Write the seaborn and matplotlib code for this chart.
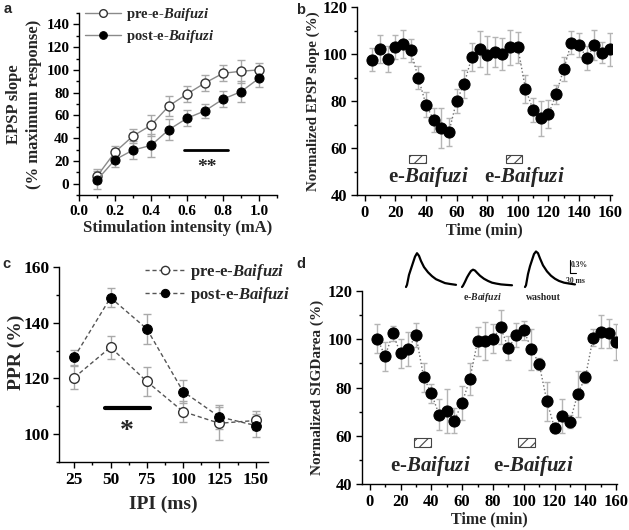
import numpy as np
import pandas as pd
import seaborn as sns
import matplotlib.pyplot as plt
from matplotlib.ticker import MultipleLocator

sns.set_theme(style="ticks")
plt.rcParams['font.family'] = ['Liberation Serif', 'DejaVu Serif']
plt.rcParams['font.weight'] = 'bold'
plt.rcParams['mathtext.fontset'] = 'custom'
plt.rcParams['mathtext.rm'] = 'Liberation Serif:bold'
plt.rcParams['mathtext.it'] = 'Liberation Serif:italic:bold'
plt.rcParams['axes.edgecolor'] = 'black'
plt.rcParams['axes.linewidth'] = 1.0
plt.rcParams['xtick.color'] = 'black'
plt.rcParams['ytick.color'] = 'black'
plt.rcParams['hatch.linewidth'] = 0.8

# ---- panel a: input/output curve
intensity = [0.1, 0.2, 0.3, 0.4, 0.5, 0.6, 0.7, 0.8, 0.9, 1.0]
pre_io = [6.5, 27.7, 41.9, 51.3, 68.4, 78.8, 88.5, 97.0, 98.8, 100.0]
pre_io_err = [6, 5, 6, 9, 9, 7, 7, 7, 10, 6]
post_io = [3.2, 21.0, 29.5, 33.6, 47.5, 57.5, 64.0, 74.3, 80.8, 92.6]
post_io_err = [8, 6, 8, 10, 9, 7, 6, 7, 9, 8]

# ---- panel b: EPSP slope time course
time_min = [5, 10, 15, 20, 25, 30, 35, 40, 45, 50, 55, 60, 65, 70, 75, 80,
            85, 90, 95, 100, 105, 110, 115, 120, 125, 130, 135, 140, 145, 150, 155, 160]
epsp = [97.6, 102.2, 98.0, 103.0, 104.2, 101.5, 89.9, 78.5, 72.0, 68.4, 66.7, 80.0,
        87.3, 98.8, 102.1, 99.5, 100.8, 100.0, 102.8, 102.8, 85.2, 76.2, 72.7, 74.3,
        82.8, 93.7, 104.8, 103.8, 98.3, 103.8, 100.5, 102.1]
epsp_err = [5, 6, 5.5, 5, 6, 5, 5, 5.5, 5, 8.5, 6, 5, 6, 6, 7.5, 8,
            6.5, 7, 7.5, 6.5, 6, 5, 7.5, 6, 4, 5, 5, 5, 5, 6.5, 4.5, 7]
drug_b_start = [29, 92]
drug_b_end = [40, 103]

# ---- panel c: paired-pulse ratio
ipi = [25, 50, 75, 100, 125, 150]
pre_ppr = [120.3, 131.2, 118.9, 108.1, 103.9, 104.9]
pre_ppr_err = [4, 4.2, 5.3, 3.9, 6, 3.4]
post_ppr = [127.6, 149.0, 137.8, 115.3, 106.2, 103.1]
post_ppr_err = [2.7, 3.5, 5.4, 4, 4.3, 4.1]

# ---- panel d: SIGD area time course
sigd = [100.2, 93.0, 102.4, 94.1, 95.8, 101.8, 84.3, 77.6, 68.8, 70.3, 66.3, 73.7,
        83.5, 99.2, 99.2, 100.2, 105.0, 96.2, 101.7, 103.7, 95.9, 89.7, 74.3, 63.1,
        68.3, 65.9, 77.3, 84.3, 100.7, 103.2, 102.4, 98.8]
sigd_err = [6, 6, 3, 6, 7, 5, 6, 4, 6.5, 9, 5, 7, 6.5, 6, 8, 6,
            7, 5, 5, 4, 8.5, 2.5, 8, 2, 7, 2.5, 9.5, 2.5, 3.5, 7, 6, 7.5]
drug_d_start = [29, 96]
drug_d_end = [40, 107]

# ---- panel d inset: example traces (ms, %)
trace_t = [0, 5, 15, 25, 35, 45, 55, 65, 75, 90, 110, 130, 150, 170, 195, 220, 250]
trace_ctrl = [0, 0.05, 0.28, 0.42, 0.56, 0.70, 0.78, 0.72, 0.60, 0.46, 0.34, 0.25, 0.18, 0.14, 0.09, 0.07, 0.05]
trace_drug = [0, 0.03, 0.12, 0.22, 0.30, 0.37, 0.40, 0.38, 0.33, 0.26, 0.19, 0.14, 0.10, 0.08, 0.06, 0.05, 0.04]
trace_wash = [0, 0.04, 0.30, 0.48, 0.62, 0.76, 0.82, 0.78, 0.66, 0.50, 0.36, 0.26, 0.19, 0.14, 0.10, 0.08, 0.06]

W, H = 629, 530
fig = plt.figure(figsize=(W / 100, H / 100), dpi=100)


def box(l, t, r, b):
    return [l / W, 1 - b / H, (r - l) / W, (b - t) / H]


def style(ax, xmaj, xmin, ymaj, ymin, size):
    sns.despine(ax=ax)
    ax.xaxis.set_major_locator(MultipleLocator(xmaj))
    ax.xaxis.set_minor_locator(MultipleLocator(xmin))
    ax.yaxis.set_major_locator(MultipleLocator(ymaj))
    ax.yaxis.set_minor_locator(MultipleLocator(ymin))
    ax.tick_params(which='major', length=4, width=1, labelsize=size, pad=3)
    ax.tick_params(which='minor', length=2.5, width=1)
    for lab in ax.get_xticklabels() + ax.get_yticklabels():
        lab.set_fontweight('bold')


BAI = r"$\mathit{Baifuzi}$"
ERR = '#a9a9a9'

# ---------------- a
ax = fig.add_axes(box(79, 13, 277, 195))
ax.errorbar(intensity, pre_io, yerr=pre_io_err, fmt='none', ecolor=ERR, capsize=3, elinewidth=1, zorder=1)
ax.errorbar(intensity, post_io, yerr=post_io_err, fmt='none', ecolor=ERR, capsize=3, elinewidth=1, zorder=1)
sns.lineplot(x=intensity, y=pre_io, ax=ax, color='#8a8a8a', lw=1, marker='o', markersize=6.5,
             markerfacecolor='white', markeredgecolor='#333333', markeredgewidth=1, label='pre-e-' + BAI)
sns.lineplot(x=intensity, y=post_io, ax=ax, color='#8a8a8a', lw=1, marker='o', markersize=6.5,
             markerfacecolor='black', markeredgecolor='black', label='post-e-' + BAI)
ax.set_xlim(0, 1.1)
ax.set_ylim(-10, 150)
style(ax, 0.2, 0.1, 20, 10, 11)
ax.set_xticks([0.0, 0.2, 0.4, 0.6, 0.8, 1.0])
ax.set_xticklabels(['0.0', '0.2', '0.4', '0.6', '0.8', '1.0'], fontweight='bold')
ax.set_xlabel('Stimulation intensity (mA)', fontsize=12, fontweight='bold', labelpad=2)
ax.set_ylabel('EPSP slope\n(% maximum response)', fontsize=12, fontweight='bold', linespacing=1.35, labelpad=3)
ax.legend(loc='upper left', bbox_to_anchor=(0.0, 1.07), frameon=False, fontsize=10.5,
          handlelength=2.5, handletextpad=0.3, labelspacing=0.35, borderaxespad=0, markerscale=0.85)
ax.plot([0.585, 0.83], [30, 30], color='black', lw=2)
ax.text(0.71, 22, '**', ha='center', va='top', fontsize=14, fontweight='bold')

# ---------------- b
ax = fig.add_axes(box(357, 7, 612, 195))
ax.errorbar(time_min, epsp, yerr=epsp_err, fmt='none', ecolor='#b5b5b5', capsize=2.5, elinewidth=1, zorder=1)
sns.lineplot(x=time_min, y=epsp, ax=ax, color='#707070', lw=1, ls=':', marker='o', markersize=8,
             markerfacecolor='black', markeredgecolor='black')
ax.bar(drug_b_start, 3.4, width=np.subtract(drug_b_end, drug_b_start), bottom=53.8, align='edge',
       facecolor='white', edgecolor='#444444', hatch='///', lw=0.8)
for s, e in zip(drug_b_start, drug_b_end):
    ax.text(s + 12.5, 47.8, 'e-' + BAI, ha='center', va='center', fontsize=15, fontweight='bold')
ax.set_xlim(-5, 161.5)
ax.set_ylim(40, 120)
style(ax, 20, 10, 20, 10, 12)
ax.set_xlabel('Time (min)', fontsize=11.5, fontweight='bold', labelpad=1)
ax.set_ylabel('Normalized EPSP slope (%)', fontsize=10.8, fontweight='bold', labelpad=2)

# ---------------- c
ax = fig.add_axes(box(59, 267, 268, 462))
ax.errorbar(ipi, pre_ppr, yerr=pre_ppr_err, fmt='none', ecolor=ERR, capsize=3, elinewidth=1, zorder=1)
ax.errorbar(ipi, post_ppr, yerr=post_ppr_err, fmt='none', ecolor=ERR, capsize=3, elinewidth=1, zorder=1)
sns.lineplot(x=ipi, y=pre_ppr, ax=ax, color='#555555', lw=1, ls=(0, (3, 2)), marker='o', markersize=7,
             markerfacecolor='white', markeredgecolor='#333333', markeredgewidth=1, label='pre-e-' + BAI)
sns.lineplot(x=ipi, y=post_ppr, ax=ax, color='#555555', lw=1, ls=(0, (3, 2)), marker='o', markersize=7,
             markerfacecolor='black', markeredgecolor='black', label='post-e-' + BAI)
ax.set_xlim(14.5, 158.5)
ax.set_ylim(90, 160)
style(ax, 25, 12.5, 20, 10, 12.5)
ax.set_xlabel('IPI (ms)', fontsize=14, fontweight='bold', labelpad=6)
ax.set_ylabel('PPR (%)', fontsize=14, fontweight='bold')
ax.yaxis.set_label_coords(-0.165, 0.564)
ax.legend(loc='upper left', bbox_to_anchor=(0.38, 1.06), frameon=False, fontsize=12,
          handlelength=2.4, handletextpad=0.3, labelspacing=0.2, borderaxespad=0, markerscale=0.85)
ax.plot([46, 77], [109.3, 109.3], color='black', lw=3)
ax.text(61.5, 101, '*', ha='center', va='center', fontsize=20, fontweight='bold')

# ---------------- d
ax = fig.add_axes(box(362, 291, 617, 484))
ax.errorbar(time_min, sigd, yerr=sigd_err, fmt='none', ecolor='#b5b5b5', capsize=2.5, elinewidth=1, zorder=1)
sns.lineplot(x=time_min, y=sigd, ax=ax, color='#707070', lw=1, ls=':', marker='o', markersize=8,
             markerfacecolor='black', markeredgecolor='black')
ax.bar(drug_d_start, 3.5, width=np.subtract(drug_d_end, drug_d_start), bottom=55.5, align='edge',
       facecolor='white', edgecolor='#444444', hatch='///', lw=0.8)
for s, e in zip(drug_d_start, drug_d_end):
    ax.text(s + 10.5, 47.5, 'e-' + BAI, ha='center', va='center', fontsize=15, fontweight='bold')
ax.set_xlim(-5, 160.5)
ax.set_ylim(40, 120)
style(ax, 20, 10, 20, 10, 12)
ax.set_xlabel('Time (min)', fontsize=11.5, fontweight='bold', labelpad=1)
ax.set_ylabel('Normalized SIGDarea (%)', fontsize=11, fontweight='bold', labelpad=2)

# ---------------- d traces
ins = fig.add_axes(box(400, 250, 600, 300))
for off, tr in zip([30, 310, 625], [trace_ctrl, trace_drug, trace_wash]):
    sns.lineplot(x=np.add(trace_t, off), y=tr, ax=ins, color='black', lw=1.6)
ins.plot([850, 850, 878], [0.623, 0.323, 0.323], color='black', lw=0.8)
ins.text(856, 0.5, '0.3%', fontsize=5.5, ha='left', va='center', fontweight='bold')
ins.text(878, 0.15, '30 ms', fontsize=5.5, ha='center', va='center', fontweight='bold')
ins.set_xlim(0, 1000)
ins.set_ylim(-0.3, 0.854)
ins.axis('off')
fig.text(482 / W, 1 - 297 / H, 'e-' + BAI, fontsize=7, ha='center', va='center', fontweight='bold')
fig.text(543 / W, 1 - 297 / H, 'washout', fontsize=7, ha='center', va='center', fontweight='bold')

# panel letters
for lab, x, y in [('a', 4, 2), ('b', 296, 3), ('c', 2, 257), ('d', 296, 257)]:
    fig.text(x / W, 1 - y / H, lab, fontsize=10.5, fontweight='bold', family='Liberation Sans', ha='left', va='top')

fig.savefig('out.png', dpi=100)
plt.close(fig)
